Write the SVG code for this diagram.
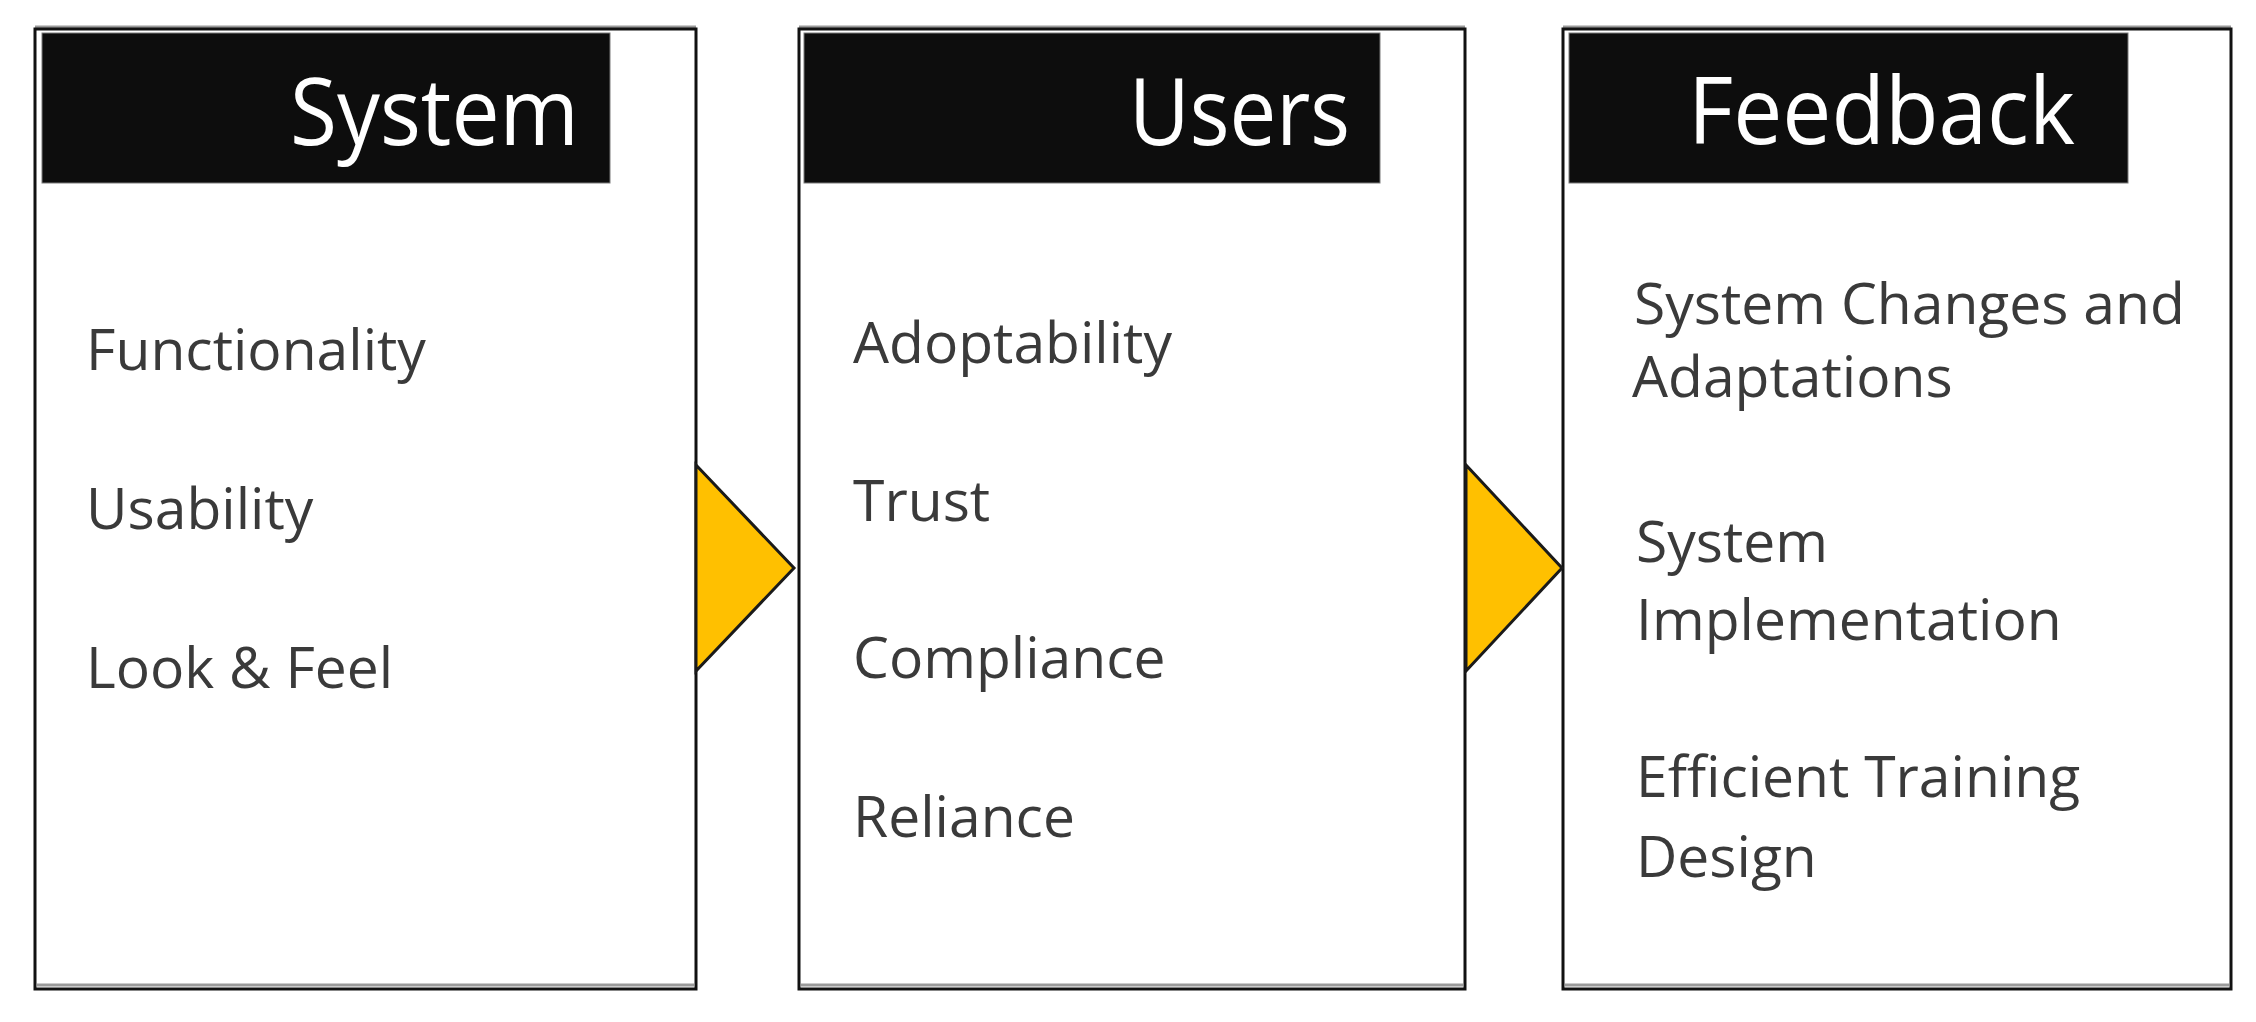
<svg xmlns="http://www.w3.org/2000/svg" width="2256" height="1022" viewBox="0 0 2256 1022">
<defs>
<style>
.box{fill:#ffffff;stroke:#111111;stroke-width:3}
.shadow{fill:none;stroke:#9a9a9a;stroke-width:3}
.hdr{fill:#0d0d0d;stroke:#7a7a7a;stroke-width:1}
.htxt{font-family:"Open Sans","Liberation Sans",sans-serif;font-size:94px;fill:#ffffff}
.btxt{font-family:"Open Sans","Liberation Sans",sans-serif;font-size:57px;fill:#3a3a3a}
.arrow{fill:#FFC000;stroke:#1a1a1a;stroke-width:3;stroke-linejoin:miter}
</style>
</defs>
<rect width="2256" height="1022" fill="#ffffff"/>
<g id="node-system">
<line class="shadow" x1="35" y1="27" x2="696" y2="27"/>
<rect class="box" x="35" y="29" width="661" height="960"/>
<line class="shadow" x1="37" y1="985" x2="694" y2="985"/>
<rect class="hdr" x="42" y="33" width="568" height="150"/>
<text class="htxt" x="290" y="145" textLength="289" lengthAdjust="spacingAndGlyphs">System</text>
<text class="btxt" x="86" y="370">Functionality</text>
<text class="btxt" x="86" y="529">Usability</text>
<text class="btxt" x="86" y="688">Look &amp; Feel</text>
</g>
<g id="node-users">
<line class="shadow" x1="799" y1="27" x2="1465" y2="27"/>
<rect class="box" x="799" y="29" width="666" height="960"/>
<line class="shadow" x1="801" y1="985" x2="1463" y2="985"/>
<rect class="hdr" x="804" y="33" width="576" height="150"/>
<text class="htxt" x="1129" y="145" textLength="221" lengthAdjust="spacingAndGlyphs">Users</text>
<text class="btxt" x="853" y="363">Adoptability</text>
<text class="btxt" x="853" y="521">Trust</text>
<text class="btxt" x="853" y="678">Compliance</text>
<text class="btxt" x="853" y="837">Reliance</text>
</g>
<g id="node-feedback">
<line class="shadow" x1="1563" y1="27" x2="2231" y2="27"/>
<rect class="box" x="1563" y="29" width="668" height="960"/>
<line class="shadow" x1="1565" y1="985" x2="2229" y2="985"/>
<rect class="hdr" x="1569" y="33" width="559" height="150"/>
<text class="htxt" x="1688" y="144" textLength="387" lengthAdjust="spacingAndGlyphs">Feedback</text>
<text class="btxt" x="1634" y="324">System Changes and</text>
<text class="btxt" x="1632" y="397">Adaptations</text>
<text class="btxt" x="1636" y="562">System</text>
<text class="btxt" x="1636" y="640">Implementation</text>
<text class="btxt" x="1636" y="797">Efficient Training</text>
<text class="btxt" x="1636" y="877">Design</text>
</g>
<g id="connectors">
<polygon class="arrow" points="696,465 794,568 696,671"/>
<polygon class="arrow" points="1466,465 1562,568 1466,671"/>
</g>
</svg>
